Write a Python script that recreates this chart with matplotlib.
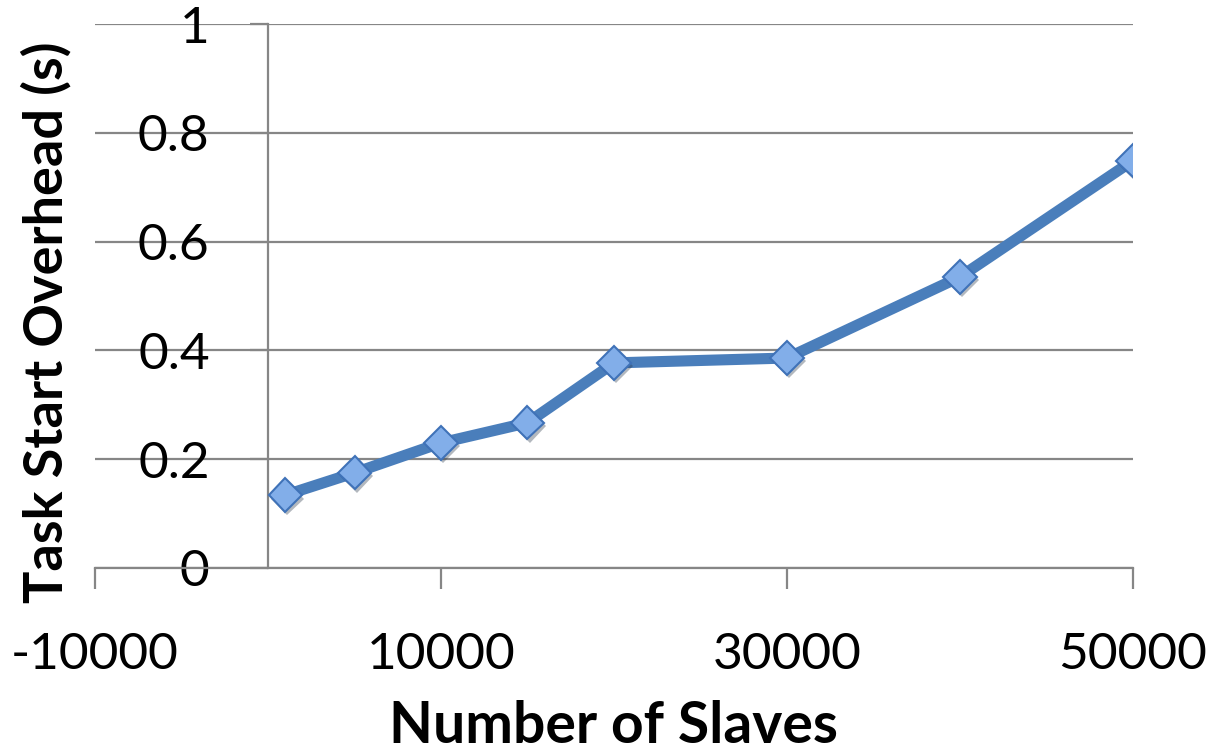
import matplotlib.pyplot as plt
from matplotlib import patheffects as pe

# data
slaves = [1000, 5000, 10000, 15000, 20000, 30000, 40000, 50000]
overhead = [0.134, 0.175, 0.230, 0.267, 0.377, 0.386, 0.535, 0.749]

xticks = [-10000, 10000, 30000, 50000]
xtick_labels = ['-10000', '10000', '30000', '50000']
yticks = [0, 0.2, 0.4, 0.6, 0.8, 1]
ytick_labels = ['0', '0.2', '0.4', '0.6', '0.8', '1']

plt.rcParams['font.family'] = ['Lato', 'DejaVu Sans']

grey = '#868686'
line_col = '#4a7ebb'

fig = plt.figure(figsize=(12.09, 7.51), dpi=100)
ax = fig.add_axes([0.0786, 0.2437, 0.8585, 0.7243])

ax.set_xlim(-10000, 50000)
ax.set_ylim(0, 1)

# horizontal gridlines
ax.yaxis.grid(True, color=grey, lw=1.6)
ax.set_axisbelow(True)

# spines: y axis sits at x = 0, x axis at y = 0
for s in ['top', 'right']:
    ax.spines[s].set_visible(False)
ax.spines['left'].set_position(('data', 0))
ax.spines['left'].set_color(grey)
ax.spines['left'].set_linewidth(1.6)
ax.spines['bottom'].set_color(grey)
ax.spines['bottom'].set_linewidth(1.6)

ax.set_xticks(xticks)
ax.set_xticklabels(xtick_labels, fontsize=37)
ax.set_yticks(yticks)
ax.set_yticklabels(ytick_labels, fontsize=37)
ax.tick_params(axis='x', direction='out', length=15, width=1.6, color=grey, pad=31)
ax.tick_params(axis='y', direction='out', length=13, width=1.6, color=grey, pad=29)

ax.set_xlabel('Number of Slaves', fontsize=41, fontweight='bold', labelpad=16)
fig.text(0.017, 0.571, 'Task Start Overhead (s)',
         rotation=90, fontsize=39, fontweight='bold', ha='left', va='center')

# line, then markers with a soft shadow
ax.plot(slaves, overhead, color=line_col, lw=8, solid_joinstyle='round', zorder=3)
ax.plot(slaves, overhead, ls='none', marker='D', ms=17, mfc='#82aee9',
        mec='#3f72b8', mew=1.5, zorder=4,
        path_effects=[pe.SimplePatchShadow(offset=(1.5, -2.5), alpha=0.35), pe.Normal()])

fig.savefig('out.png', dpi=100)
